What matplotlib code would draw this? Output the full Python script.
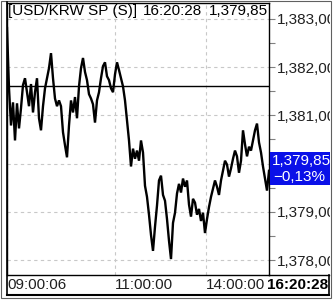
import matplotlib
matplotlib.use("Agg")
import matplotlib.pyplot as plt
from matplotlib.patches import Rectangle
from matplotlib.lines import Line2D
from matplotlib.transforms import Bbox

# USD/KRW spot, intraday ticks
prices = [
    1382.81, 1381.56, 1380.79, 1381.27, 1380.48, 1381.25, 1380.73, 1381.15, 1381.63, 1381.77,
    1381.48, 1381.19, 1381.65, 1381.06, 1381.48, 1381.77, 1380.94, 1380.69, 1381.19, 1381.56,
    1381.77, 1381.98, 1382.29, 1381.77, 1381.35, 1381.19, 1381.31, 1381.19, 1380.65, 1380.38,
    1380.13, 1380.79, 1381.31, 1381.06, 1381.38, 1380.94, 1381.60, 1381.98, 1382.19, 1381.90,
    1381.73, 1381.44, 1381.35, 1381.23, 1380.85, 1381.31, 1381.48, 1381.77, 1382.02, 1382.10,
    1381.81, 1381.73, 1381.56, 1381.48, 1381.85, 1382.10, 1381.94, 1381.77, 1381.60, 1381.31,
    1380.90, 1380.48, 1379.94, 1380.31, 1380.10, 1380.27, 1380.06, 1380.48, 1380.23, 1379.54,
    1379.31, 1378.94, 1378.52, 1378.19, 1378.69, 1379.13, 1379.65, 1379.75, 1379.35, 1379.23,
    1378.85, 1378.40, 1378.02, 1378.77, 1378.98, 1379.38, 1379.58, 1379.40, 1379.69, 1379.52,
    1379.65, 1379.15, 1378.90, 1379.27, 1379.19, 1378.94, 1379.06, 1378.81, 1378.98, 1378.56,
    1378.85, 1379.10, 1379.31, 1379.48, 1379.65, 1379.52, 1379.35, 1379.65, 1379.85, 1380.06,
    1379.98, 1379.73, 1379.90, 1380.10, 1380.27, 1380.15, 1379.81, 1380.06, 1380.69, 1380.40,
    1380.15, 1380.35, 1380.27, 1380.48, 1380.69, 1380.83, 1380.44, 1380.23, 1379.94, 1379.69,
    1379.44, 1379.85,
]
prev_close = 1381.60
last_price = "1,379,85"
change_pct = "\u22120,13%"
title_name = "[USD/KRW SP (S)]"
last_time = "16:20:28"

# 1,380 label sits under the last-price box
y_ticks = [1378, 1379, 1380, 1381, 1382, 1383]
y_labels = ["1,378,00", "1,379,00", "", "1,381,00", "1,382,00", "1,383,00"]
time_ticks = [0, 54, 99.5]
time_labels = ["09:00:06", "11:00:00", "14:00:00"]

W, H = 333, 300
plt.rcParams["font.family"] = ["Liberation Sans", "DejaVu Sans"]
fig = plt.figure(figsize=(W / 100, H / 100), dpi=100)
FS = 11


def fx(px):
    return px / W


def fy(py):
    return 1 - py / H


# plot area in pixels
x0, x1, y0, y1 = 7, 269, 3, 275
ax = fig.add_axes([fx(x0), fy(y1), fx(x1) - fx(x0), fy(y0) - fy(y1)])
n = len(prices)
ax.plot(range(n), prices, color="black", lw=1.7, solid_joinstyle="miter")
ax.axhline(prev_close, color="black", lw=1.0)
ax.set_xlim(0, n - 1)
ax.set_ylim(1377.69, 1383.33)

ax.set_yticks(y_ticks)
ax.set_yticks([v + 0.5 for v in y_ticks[:-1]], minor=True)
ax.yaxis.tick_right()
ax.set_yticklabels(y_labels, fontsize=FS, color="#202020")
ax.tick_params(axis="y", which="both", direction="out", length=4, width=0.8,
               color="#808080", pad=2)
ax.set_xticks(time_ticks)
ax.tick_params(axis="x", length=0, labelbottom=False)
ax.grid(True, color="#c8c8c8", ls=(0, (3, 3)), lw=0.8)
for s in ax.spines.values():
    s.set_color("black")
    s.set_linewidth(1.0)
clip = Bbox.from_extents(0, 0, 330, H)
for lab in ax.get_yticklabels():
    lab.set_clip_on(True)
    lab.set_clip_box(clip)

# header text
ax.text(0.004, 0.997, title_name, transform=ax.transAxes, ha="left", va="top", fontsize=FS)
ax.text(0.519, 0.997, last_time, transform=ax.transAxes, ha="left", va="top", fontsize=FS)
ax.text(0.997, 0.997, last_price, transform=ax.transAxes, ha="right", va="top", fontsize=FS)

# last price box on the right axis
fig.add_artist(Rectangle((fx(270), fy(185)), fx(330) - fx(270), fy(152) - fy(185),
                         facecolor="#0a10e8", edgecolor="none"))
fig.text(fx(272), fy(161), last_price, color="white", fontsize=FS, va="center", ha="left")
fig.text(fx(273), fy(177), change_pct, color="white", fontsize=FS, va="center", ha="left")

# time axis strip
for t, lab in zip(time_ticks, time_labels):
    xp = x0 + (x1 - x0) * t / (n - 1)
    fig.text(fx(max(xp, 7)), fy(285), lab, fontsize=FS, ha="left", va="center", color="#202020")
fig.text(fx(328), fy(285), last_time, fontsize=FS, ha="right", va="center",
         fontweight="bold", color="black")
fig.add_artist(Line2D([fx(x1), fx(329)], [fy(y1), fy(y1)], color="black", lw=1.0))
fig.add_artist(Line2D([fx(6.5), fx(6.5)], [fy(2), fy(295)], color="black", lw=1.2))
fig.add_artist(Line2D([fx(6.5), fx(329)], [fy(295), fy(295)], color="black", lw=1.5))
fig.add_artist(Line2D([fx(329), fx(329)], [fy(275), fy(295)], color="black", lw=1.2))
fig.add_artist(Rectangle((fx(1), fy(298)), fx(331) - fx(1), fy(1) - fy(298),
                         facecolor="none", edgecolor="#606060", lw=0.8))

fig.savefig("out.png", dpi=100)
